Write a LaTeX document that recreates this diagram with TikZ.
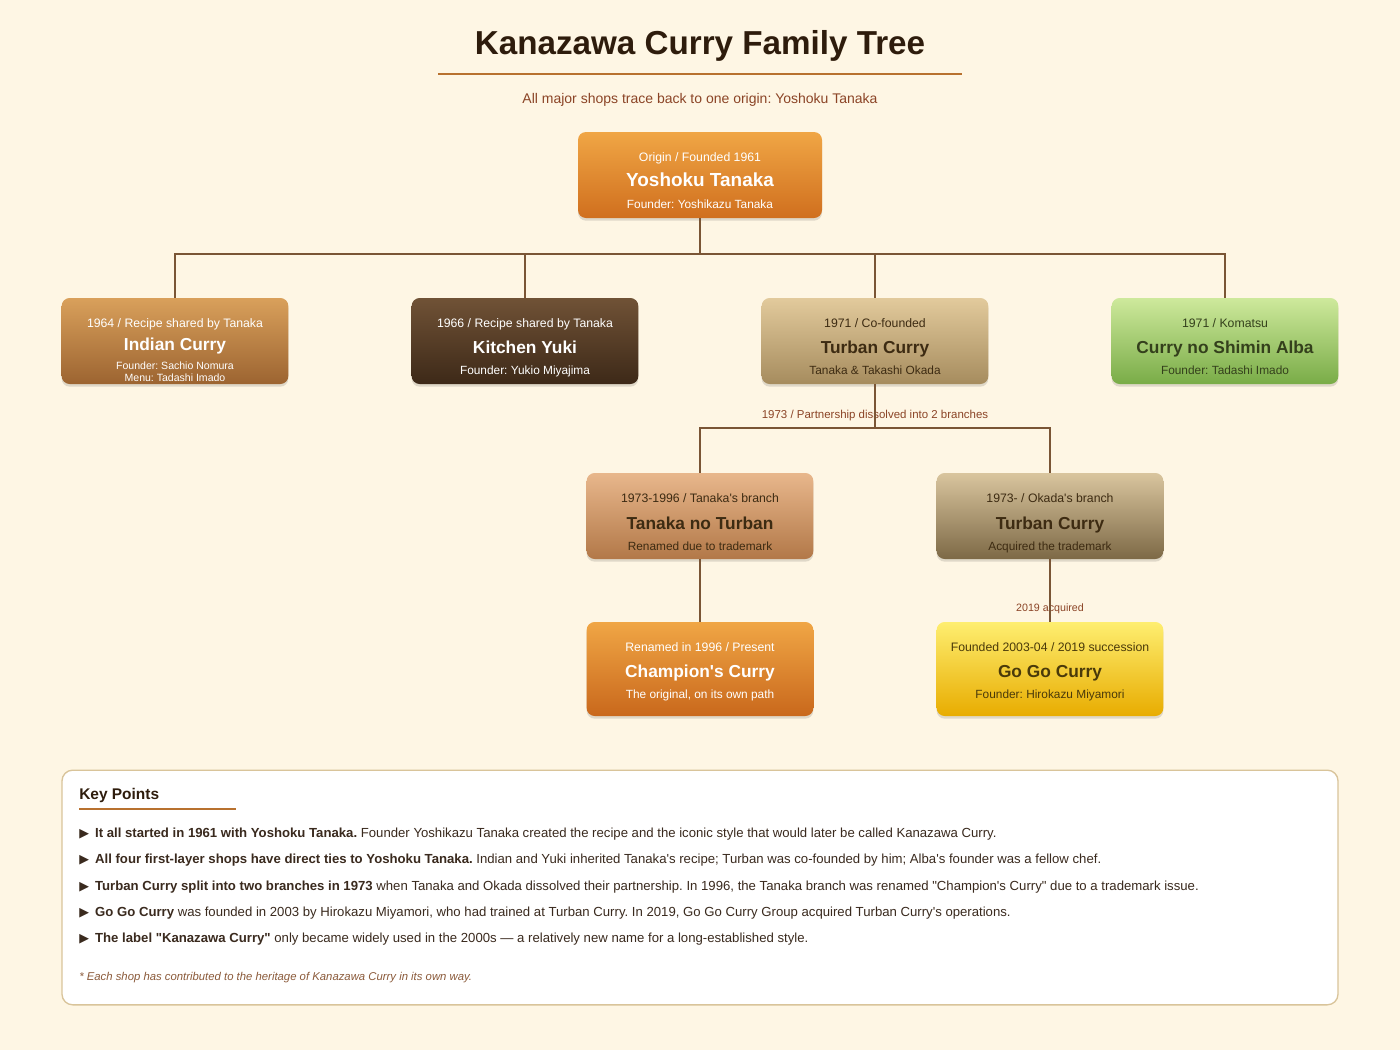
\documentclass[tikz,border=0pt]{standalone}
\usepackage{fontspec}
\setmainfont{Liberation Sans}[Ligatures=TeXOff]
\newfontfamily\symfont{DejaVu Sans}
\usetikzlibrary{shadows}

\definecolor{bg}{HTML}{FEF6E4}
\definecolor{ink}{HTML}{2E1C0C}
\definecolor{rust}{HTML}{8B4426}
\definecolor{accent}{HTML}{B8712F}
\definecolor{linkc}{HTML}{7A5535}
\definecolor{panelc}{HTML}{D9C49A}
\definecolor{bodyc}{HTML}{3A2A1E}
\definecolor{notec}{HTML}{8B5A3A}
% box colours, top and bottom
\definecolor{rootT}{HTML}{F0A645}  \definecolor{rootB}{HTML}{D06F1E}
\definecolor{indianT}{HTML}{D9A05B}\definecolor{indianB}{HTML}{9C6431}
\definecolor{yukiT}{HTML}{705236}  \definecolor{yukiB}{HTML}{3D2918}
\definecolor{turbanT}{HTML}{E2CA9C}\definecolor{turbanB}{HTML}{A68C5E}
\definecolor{albaT}{HTML}{CEE99C}  \definecolor{albaB}{HTML}{79AC47}
\definecolor{tntT}{HTML}{E8B78C}   \definecolor{tntB}{HTML}{B27848}
\definecolor{okadaT}{HTML}{D9C59E} \definecolor{okadaB}{HTML}{7D6946}
\definecolor{champT}{HTML}{F0A645} \definecolor{champB}{HTML}{C9681C}
\definecolor{gogoT}{HTML}{FEEE70}  \definecolor{gogoB}{HTML}{E8AC00}
\definecolor{brownink}{HTML}{3D2B12}
\definecolor{greenink}{HTML}{34401C}
\definecolor{goldink}{HTML}{4A3A0A}

\tikzset{
  shopbox/.style={rounded corners=6pt, inner sep=0pt, minimum width=170pt, minimum height=64.5pt,
    drop shadow={shadow xshift=0pt, shadow yshift=-2pt, opacity=0.12, fill=black}},
  txt/.style={inner sep=0pt, text depth=0pt},
  yrline/.style={txt, text height=6.6pt, font=\fontsize{9.2}{10}\selectfont},
  shopname/.style={txt, text height=9.4pt, font=\bfseries\fontsize{13}{15}\selectfont},
  infoline/.style={txt, text height=6.4pt, font=\fontsize{8.9}{10}\selectfont},
  smallline/.style={txt, text height=5.7pt, font=\fontsize{7.9}{9}\selectfont},
  link/.style={draw=linkc, line width=1.9pt},
  tagline/.style={txt, text height=5.8pt, text=rust, font=\fontsize{8}{9}\selectfont},
  keyline/.style={txt, text height=7.1pt, anchor=west, text=bodyc, font=\fontsize{9.87}{11}\selectfont},
}
\newcommand{\tri}{{\symfont\fontsize{9.5}{10}\selectfont ▶}\hspace{4.6pt}}

\begin{document}
\frenchspacing
\begin{tikzpicture}[x=0.75pt,y=-0.75pt]
\fill[bg] (0,0) rectangle (1400,1050);
\useasboundingbox (0,0) rectangle (1400,1050);

% title
\node[txt, text height=17.9pt, text=ink, font=\bfseries\fontsize{24.9}{28}\selectfont] (title) at (700,43) {Kanazawa Curry Family Tree};
\draw[accent, line width=2.2pt] (438,74) -- (962,74);
\node[txt, text height=7.5pt, text=rust, font=\fontsize{10.5}{12}\selectfont] (subtitle) at (700,98) {All major shops trace back to one origin: Yoshoku Tanaka};

% origin
\node[shopbox, minimum width=183pt, top color=rootT, bottom color=rootB] (root) at (700,175) {};
\node[yrline, white] (root-yr) at (700,157) {Origin / Founded 1961};
\node[shopname, white, text height=10.2pt, font=\bfseries\fontsize{14.2}{16}\selectfont] (root-name) at (700,180) {Yoshoku Tanaka};
\node[infoline, white] (root-info) at (700,204) {Founder: Yoshikazu Tanaka};

% first layer
\node[shopbox, top color=indianT, bottom color=indianB] (indian) at (175,341) {};
\node[yrline, white] (indian-yr) at (175,323) {1964 / Recipe shared by Tanaka};
\node[shopname, white] (indian-name) at (175,344) {Indian Curry};
\node[smallline, white] (indian-info) at (175,366) {Founder: Sachio Nomura};
\node[smallline, white] (indian-menu) at (175,378) {Menu: Tadashi Imado};

\node[shopbox, top color=yukiT, bottom color=yukiB] (yuki) at (525,341) {};
\node[yrline, white] (yuki-yr) at (525,323) {1966 / Recipe shared by Tanaka};
\node[shopname, white] (yuki-name) at (525,347) {Kitchen Yuki};
\node[infoline, white] (yuki-info) at (525,370) {Founder: Yukio Miyajima};

\node[shopbox, top color=turbanT, bottom color=turbanB] (turban) at (875,341) {};
\node[yrline, brownink] (turban-yr) at (875,323) {1971 / Co-founded};
\node[shopname, brownink] (turban-name) at (875,347) {Turban Curry};
\node[infoline, brownink] (turban-info) at (875,370) {Tanaka \& Takashi Okada};

\node[shopbox, top color=albaT, bottom color=albaB] (alba) at (1225,341) {};
\node[yrline, greenink] (alba-yr) at (1225,323) {1971 / Komatsu};
\node[shopname, greenink] (alba-name) at (1225,347) {Curry no Shimin Alba};
\node[infoline, greenink] (alba-info) at (1225,370) {Founder: Tadashi Imado};

\coordinate (hub1) at (700,254);
\draw[link] (root.south) -- (hub1);
\draw[link] (hub1) -| (indian.north);
\draw[link] (hub1) -| (yuki.north);
\draw[link] (hub1) -| (turban.north);
\draw[link] (hub1) -| (alba.north);

% split of 1973
\node[shopbox, top color=tntT, bottom color=tntB] (tnt) at (700,516) {};
\node[yrline, brownink] (tnt-yr) at (700,498) {1973-1996 / Tanaka's branch};
\node[shopname, brownink] (tnt-name) at (700,523) {Tanaka no Turban};
\node[infoline, brownink] (tnt-info) at (700,546) {Renamed due to trademark};

\node[shopbox, top color=okadaT, bottom color=okadaB] (okada) at (1050,516) {};
\node[yrline, brownink] (okada-yr) at (1050,498) {1973- / Okada's branch};
\node[shopname, brownink] (okada-name) at (1050,523) {Turban Curry};
\node[infoline, brownink] (okada-info) at (1050,546) {Acquired the trademark};

\node[tagline, text height=6.2pt, font=\fontsize{8.6}{9}\selectfont] (split-tag) at (875,414) {1973 / Partnership dissolved into 2 branches};
\coordinate (hub2) at (875,428);
\draw[link] (turban.south) -- (hub2);
\draw[link] (hub2) -| (tnt.north);
\draw[link] (hub2) -| (okada.north);

% present day
\node[shopbox, minimum height=70.5pt, top color=champT, bottom color=champB] (champ) at (700,669) {};
\node[yrline, white] (champ-yr) at (700,647) {Renamed in 1996 / Present};
\node[shopname, white] (champ-name) at (700,671) {Champion's Curry};
\node[infoline, white] (champ-info) at (700,694) {The original, on its own path};

\node[shopbox, minimum height=70.5pt, top color=gogoT, bottom color=gogoB] (gogo) at (1050,669) {};
\node[yrline, goldink] (gogo-yr) at (1050,647) {Founded 2003-04 / 2019 succession};
\node[shopname, goldink] (gogo-name) at (1050,671) {Go Go Curry};
\node[infoline, goldink] (gogo-info) at (1050,694) {Founder: Hirokazu Miyamori};

\draw[link] (tnt.south) -- (champ.north);
\node[tagline] (buy-tag) at (1050,608) {2019 acquired};
\draw[link] (okada.south) -- (gogo.north);

% key points
\node[draw=panelc, line width=1pt, fill=white, rounded corners=8pt, minimum width=957pt, minimum height=176pt] (keys) at (700,887.5) {};
\node[txt, text height=8.4pt, anchor=west, text=ink, font=\bfseries\fontsize{11.6}{13}\selectfont] (keys-title) at (79,794) {Key Points};
\draw[accent, line width=1.5pt] (79,809) -- (236,809);
\node[keyline] (kp1) at (79,833) {\tri\textbf{It all started in 1961 with Yoshoku Tanaka.} Founder Yoshikazu Tanaka created the recipe and the iconic style that would later be called Kanazawa Curry.};
\node[keyline] (kp2) at (79,859) {\tri\textbf{All four first-layer shops have direct ties to Yoshoku Tanaka.} Indian and Yuki inherited Tanaka's recipe; Turban was co-founded by him; Alba's founder was a fellow chef.};
\node[keyline] (kp3) at (79,886) {\tri\textbf{Turban Curry split into two branches in 1973} when Tanaka and Okada dissolved their partnership. In 1996, the Tanaka branch was renamed "Champion's Curry" due to a trademark issue.};
\node[keyline] (kp4) at (79,912) {\tri\textbf{Go Go Curry} was founded in 2003 by Hirokazu Miyamori, who had trained at Turban Curry. In 2019, Go Go Curry Group acquired Turban Curry's operations.};
\node[keyline] (kp5) at (79,938) {\tri\textbf{The label "Kanazawa Curry"} only became widely used in the 2000s — a relatively new name for a long-established style.};
\node[txt, text height=6.1pt, anchor=west, text=notec, font=\itshape\fontsize{8.5}{9}\selectfont] (note) at (79,976) {* Each shop has contributed to the heritage of Kanazawa Curry in its own way.};
\end{tikzpicture}
\end{document}
